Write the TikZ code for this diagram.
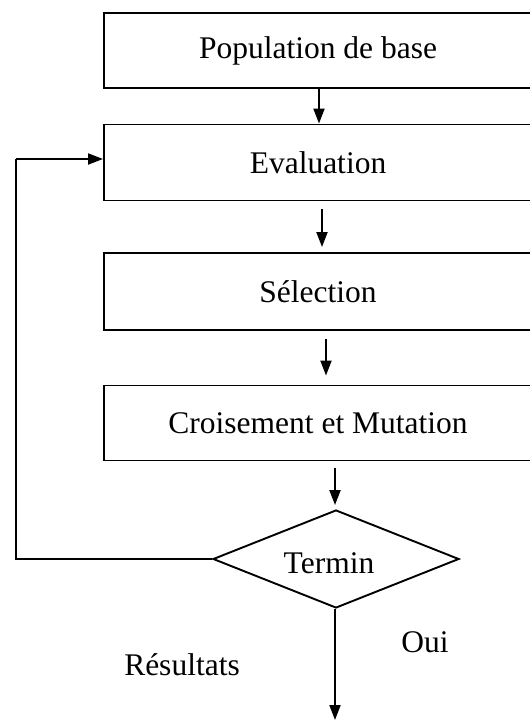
\documentclass[tikz,border=0pt]{standalone}
\usepackage{fontspec}
\setmainfont{Liberation Serif}
\usetikzlibrary{shapes.geometric,arrows.meta}
\begin{document}
\begin{tikzpicture}[x=1pt,y=-1pt,
  every node/.style={font=\fontsize{31.5}{36}\selectfont},
  stepbox/.style={draw, line width=1.9pt, rectangle, minimum width=428pt, inner sep=0pt},
  decision/.style={draw, line width=1.9pt, shape=diamond, minimum width=246pt, minimum height=98pt, inner sep=0pt, aspect=2.5},
  flow/.style={line width=1.9pt, -{Triangle[length=15pt,width=11pt]}},
  loopline/.style={line width=1.9pt}]
  \useasboundingbox (0,0) rectangle (530,721);

  % process boxes (right edges run past the page)
  \node[stepbox, minimum height=75pt] (pop) at (318,50.5) {Population de base};
  \node[stepbox, minimum height=76pt] (ev)  at (318,162.5) {Evaluation};
  \node[stepbox, minimum height=77pt] (sel) at (318,291.5) {Sélection};
  \node[stepbox, minimum height=75pt] (cm)  at (318,423) {Croisement et Mutation};

  % stopping test
  \node[decision] (term) at (336,559) {};
  \node (termtxt) at (329,563) {Termin};

  % labels of the exit branch
  \node (oui) at (425,642) {Oui};
  \node (res) at (182,665) {Résultats};

  % end of the output arrow
  \coordinate (out) at (335,720);
  \coordinate (lb) at (16,559);
  \coordinate (lt) at (16,159);

  % main flow
  \draw[flow] (pop.south -| 319,0) -- (ev.north -| 319,0);
  \draw[flow, shorten <=8pt, shorten >=5pt] (ev.south -| 322,0) -- (sel.north -| 322,0);
  \draw[flow, shorten <=8pt, shorten >=9pt] (sel.south -| 326,0) -- (cm.north -| 326,0);
  \draw[flow, shorten <=7pt, shorten >=4pt] (cm.south -| 335,0) -- (term.north -| 335,0);

  % loop back to evaluation
  \draw[loopline] (term.west) -- (lb) -- (lt);
  \draw[flow] (lt) -- (ev.west |- lt);

  % exit
  \draw[flow] (term.south -| 335,0) -- (out);
\end{tikzpicture}
\end{document}
